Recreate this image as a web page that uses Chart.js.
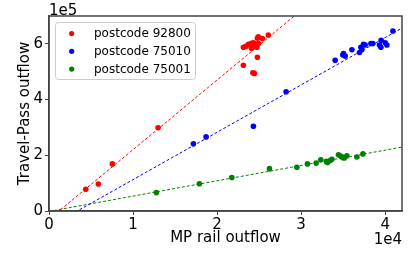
<!DOCTYPE html>
<html>
<head>
<meta charset="utf-8">
<script src="https://cdn.jsdelivr.net/npm/chart.js@4/dist/chart.umd.min.js"></script>
<style>html,body{margin:0;padding:0;background:#fff;}</style>
</head>
<body>
<canvas id="chart" width="419" height="254"></canvas>
<script>
// series
const seriesNames = ['postcode 92800', 'postcode 75010', 'postcode 75001'];
const seriesColors = ['#ff0000', '#0000ff', '#008000'];

const redX = [4370, 5870, 7540, 12980, 23130, 23450, 23730, 24080, 24320, 24520, 24080, 24800, 24920, 24730, 25390, 26100, 24800, 23130, 24250, 24440, 24900];
const redY = [78000, 97000, 169000, 299000, 588000, 591000, 598000, 602000, 604000, 598000, 584000, 620000, 601000, 588000, 619000, 632000, 552000, 523000, 496000, 494000, 625000];

const blueX = [17180, 18690, 24320, 28210, 34050, 34960, 35240, 35040, 36040, 36940, 37110, 37420, 37620, 38300, 38540, 39320, 39490, 39520, 40000, 40200, 40920, 37220];
const blueY = [241000, 266000, 304000, 428000, 541000, 560000, 556000, 565000, 579000, 569000, 588000, 598000, 596000, 601000, 601000, 596000, 588000, 613000, 604000, 596000, 646000, 579000];

const greenX = [12770, 17890, 21750, 26230, 29490, 30750, 31790, 32340, 33130, 33450, 33650, 34440, 34840, 35120, 35440, 36630, 37350, 33000, 34700, 35000];
const greenY = [66000, 98000, 120000, 152000, 157000, 169000, 172000, 184000, 174000, 181000, 186000, 202000, 194000, 190000, 198000, 194000, 205000, 178000, 197000, 192000];

// fitted lines y = slope * x + intercept
const fitSlope = [25.0, 17.0, 5.5];
const fitIntercept = [-29750, -57300, -1500];

const xTicks = [0, 1, 2, 3, 4];   // x 1e4
const yTicks = [0, 2, 4, 6];      // x 1e5
const xMax = 42000, yMax = 700000;

const FONT = 'DejaVu Sans';
Chart.defaults.font.family = FONT;
Chart.defaults.font.size = 15;
Chart.defaults.color = '#000';

const toPoints = (xs, ys) => xs.map((x, i) => ({x: x, y: ys[i]}));
const fitLine = i => [0, xMax].map(x => ({x: x, y: fitSlope[i] * x + fitIntercept[i]}));

const seriesPts = [toPoints(redX, redY), toPoints(blueX, blueY), toPoints(greenX, greenY)];

const datasets = [];
seriesPts.forEach((pts, i) => {
  datasets.push({
    label: seriesNames[i], data: pts, order: 0,
    backgroundColor: seriesColors[i], borderWidth: 0,
    pointRadius: 2.8, showLine: false
  });
});
seriesPts.forEach((pts, i) => {
  datasets.push({
    label: 'fit ' + i, data: fitLine(i), order: 1,
    borderColor: seriesColors[i], borderWidth: 1, borderDash: [3, 2],
    pointRadius: 0, showLine: true
  });
});

const extras = {
  id: 'extras',
  afterDatasetsDraw(chart) {
    const {ctx, chartArea: a} = chart;
    ctx.save();
    ctx.strokeStyle = '#444';
    ctx.lineWidth = 1.5;
    ctx.strokeRect(a.left, a.top, a.right - a.left, a.bottom - a.top);
    ctx.restore();
  },
  afterDraw(chart) {
    const {ctx, chartArea: a} = chart;
    ctx.save();
    ctx.fillStyle = '#000';
    ctx.font = '15px "' + FONT + '"';
    ctx.textBaseline = 'alphabetic';
    ctx.textAlign = 'left';
    ctx.fillText('1e5', a.left, 15);
    ctx.textAlign = 'right';
    ctx.fillText('1e4', a.right, 244);

    // legend
    const bx = 55.5, by = 22.5, bw = 140, bh = 57;
    ctx.beginPath();
    ctx.roundRect(bx, by, bw, bh, 3);
    ctx.fillStyle = 'rgba(255,255,255,0.8)';
    ctx.fill();
    ctx.strokeStyle = '#cccccc';
    ctx.lineWidth = 1;
    ctx.stroke();
    ctx.font = '12px "' + FONT + '"';
    ctx.textAlign = 'left';
    ctx.textBaseline = 'middle';
    seriesNames.forEach((name, i) => {
      const y = 33.5 + i * 17.8;
      ctx.beginPath();
      ctx.arc(71.7, y, 2.6, 0, Math.PI * 2);
      ctx.fillStyle = seriesColors[i];
      ctx.fill();
      ctx.fillStyle = '#000';
      ctx.fillText(name, 94, y + 0.5);
    });
    ctx.restore();
  }
};

new Chart(document.getElementById('chart'), {
  type: 'scatter',
  data: {datasets: datasets},
  plugins: [extras],
  options: {
    responsive: false,
    animation: false,
    layout: {padding: {top: 16, right: 17, left: 0, bottom: 0}},
    plugins: {legend: {display: false}, tooltip: {enabled: false}},
    scales: {
      x: {
        type: 'linear', min: 0, max: xMax,
        afterBuildTicks: s => { s.ticks = xTicks.map(v => ({value: v * 1e4})); },
        afterFit: s => { s.height = 43; },
        ticks: {callback: v => String(v / 1e4), padding: 1, maxRotation: 0},
        grid: {drawOnChartArea: false, drawTicks: true, tickLength: 4, tickColor: '#444', tickWidth: 1},
        border: {display: true, color: '#444', width: 1.5},
        title: {display: true, text: 'MP rail outflow', padding: {top: 0, bottom: 7}}
      },
      y: {
        type: 'linear', min: 0, max: yMax,
        afterBuildTicks: s => { s.ticks = yTicks.map(v => ({value: v * 1e5})); },
        afterFit: s => { s.width = 49; },
        ticks: {callback: v => String(v / 1e5), padding: 2},
        grid: {drawOnChartArea: false, drawTicks: true, tickLength: 4, tickColor: '#444', tickWidth: 1},
        border: {display: true, color: '#444', width: 1.5},
        title: {display: true, text: 'Travel-Pass outflow', padding: {top: 16, bottom: 0}}
      }
    }
  }
});
</script>
</body>
</html>
